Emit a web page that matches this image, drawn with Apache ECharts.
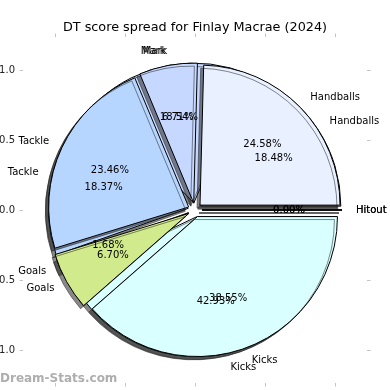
<!DOCTYPE html>
<html><head><meta charset="utf-8">
<script src="https://cdn.jsdelivr.net/npm/echarts@6/dist/echarts.min.js"></script>
<style>html,body{margin:0;padding:0;background:#fff}#c{width:390px;height:390px}</style>
</head><body><div id="c"></div>
<script>
// ---- data ----
const categories = ['Handballs', 'Mark', 'Tackle', 'Goals', 'Kicks', 'Hitout'];
const pieTopValues = [24.58, 6.71, 23.46, 6.70, 38.55, 0];
const pieBottomValues = [18.48, 18.54, 18.37, 1.68, 42.93, 0];
const sliceColors = ['#E9F0FF', '#C6D8FF', '#B6D5FF', '#D0EA8C', '#D9FFFF', '#F4CFA8'];
const tickValues = [-1, -0.5, 0, 0.5, 1];
const titleText = 'DT score spread for Finlay Macrae (2024)';
const watermark = 'Dream-Stats.com';

const FONT = 'DejaVu Sans';
const chart = echarts.init(document.getElementById('c'), null, {renderer: 'canvas'});

const XR = 172 / 140, YR = 173 / 140;
function fmtTick(v) { return (v < 0 ? '\u2212' : '') + Math.abs(v).toFixed(1); }
function axisCommon(show) {
  return {
    type: 'value', min: -XR, max: XR,
    axisLine: {show: false, onZero: false},
    splitLine: {show: false},
    axisTick: {show: true, customValues: tickValues, length: 3.5, inside: false, lineStyle: {color: '#c4c4c4', width: 1}},
    axisLabel: {show: show, customValues: tickValues, formatter: fmtTick, fontSize: 10, color: '#222', fontFamily: FONT, margin: 8, hideOverlap: false}
  };
}
const xBottom = Object.assign(axisCommon(true), {position: 'bottom', gridIndex: 0});
const xTop = Object.assign(axisCommon(false), {position: 'top', gridIndex: 0});
const yLeft = Object.assign(axisCommon(true), {position: 'left', min: -YR, max: YR, gridIndex: 0});
const yRight = Object.assign(axisCommon(false), {position: 'right', min: -YR, max: YR, gridIndex: 0});

chart.setOption({
  animation: false,
  backgroundColor: '#ffffff',
  title: {text: titleText, left: 'center', top: 16, textStyle: {fontSize: 12.8, fontWeight: 'normal', color: '#000', fontFamily: FONT}},
  grid: {left: 23, right: 23, top: 37, bottom: 7, containLabel: false, outerBoundsMode: 'none'},
  xAxis: [xBottom, xTop],
  yAxis: [yLeft, yRight],
  graphic: [{type: 'text', left: 0, top: 373, silent: true,
    style: {text: watermark, fontSize: 12, fontWeight: 'bold', fill: 'rgba(140,140,140,0.7)', fontFamily: FONT}}],
  series: []
});

const c0 = chart.convertToPixel({xAxisIndex: 0, yAxisIndex: 0}, [0, 0]);
const c1 = chart.convertToPixel({xAxisIndex: 0, yAxisIndex: 0}, [1, 0]);
const R = c1[0] - c0[0];
const OFF = 0.05 * R;

function pctText(p) { return p.percent.toFixed(2) + '%'; }
function items(values, transparent) {
  return categories.map((n, i) => ({name: n, value: values[i], selected: true,
    itemStyle: {color: transparent ? 'rgba(0,0,0,0)' : sliceColors[i]}}));
}
function sliceSeries(values, z) {
  return {
    type: 'pie', z: z, center: c0, radius: R, startAngle: 0, clockwise: false,
    selectedMode: 'multiple', selectedOffset: OFF, avoidLabelOverlap: false, silent: true,
    label: {show: true, position: 'outside', formatter: '{b}', fontSize: 10, color: '#000', fontFamily: FONT, distanceToLabelLine: 0},
    labelLine: {show: false, length: 0.1 * R, length2: 0},
    labelLayout: {hideOverlap: false},
    itemStyle: {borderColor: '#000', borderWidth: 1, shadowColor: 'rgba(40,40,40,0.55)', shadowOffsetX: -3, shadowOffsetY: 3, shadowBlur: 0},
    emphasis: {disabled: true},
    select: {itemStyle: {borderColor: '#000', borderWidth: 1}},
    data: items(values, false)
  };
}
function pctSeries(values, z) {
  return {
    type: 'pie', z: z, center: c0, radius: 1.2 * R, startAngle: 0, clockwise: false,
    selectedMode: 'multiple', selectedOffset: OFF, avoidLabelOverlap: false, silent: true,
    label: {show: true, position: 'inside', formatter: pctText, fontSize: 10, color: '#000', fontFamily: FONT, textBorderWidth: 0},
    labelLine: {show: false},
    labelLayout: {hideOverlap: false},
    itemStyle: {color: 'rgba(0,0,0,0)', borderWidth: 0},
    emphasis: {disabled: true},
    select: {itemStyle: {color: 'rgba(0,0,0,0)', borderWidth: 0}},
    data: items(values, true)
  };
}

chart.setOption({
  series: [
    sliceSeries(pieBottomValues, 1),
    sliceSeries(pieTopValues, 2),
    pctSeries(pieBottomValues, 5),
    pctSeries(pieTopValues, 6)
  ]
});
</script>
</body></html>
